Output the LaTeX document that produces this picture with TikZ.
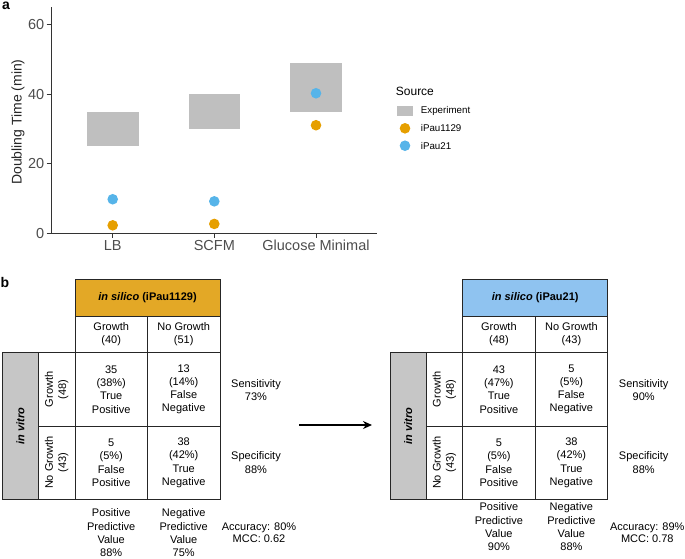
\documentclass[tikz,border=0pt]{standalone}
\usepackage{fontspec}
\setmainfont{Liberation Sans}
\usepackage{tikz}
\usetikzlibrary{arrows.meta, positioning}

\definecolor{expgray}{RGB}{191,191,191}
\definecolor{ipauorange}{RGB}{230,159,0}
\definecolor{ipaublue}{RGB}{86,180,233}
\definecolor{headorange}{RGB}{227,168,38}
\definecolor{headblue}{RGB}{143,195,240}
\definecolor{vitrogray}{RGB}{198,198,198}
\definecolor{axisgray}{RGB}{51,51,51}
\definecolor{ticktext}{RGB}{77,77,77}

\begin{document}
\begin{tikzpicture}[x=1pt, y=-1pt,
	cell/.style={draw=black!85, line width=0.9pt, inner sep=0pt, align=center, minimum width=72.5pt, minimum height=73.3pt, font=\fontsize{11}{13.3}\selectfont},
	dot/.style={circle, inner sep=0pt, minimum size=10.6pt},
	ticklab/.style={text=ticktext, font=\fontsize{14.5}{16}\selectfont, inner sep=1pt},
	txt/.style={align=center, inner sep=0pt, font=\fontsize{11}{13.3}\selectfont},
	leg/.style={anchor=west, inner sep=0pt, font=\fontsize{9.75}{11}\selectfont}]
		\useasboundingbox (0,0) rectangle (685,558);
		\node[font=\bfseries\fontsize{14}{16}\selectfont, inner sep=0pt] (pa) at (6,6) {a};
		\node[font=\bfseries\fontsize{14}{16}\selectfont, inner sep=0pt] (pb) at (5,282) {b};
		
		% panel a
		\begin{scope}[shift={(0,233.3)}, y=3.475pt]
			\fill[expgray] (87.3,25) rectangle (138.7,35);
			\fill[expgray] (189,30) rectangle (240.3,40);
			\fill[expgray] (290.3,35) rectangle (342.3,49);
			\node[dot, fill=ipaublue] (lbB) at (112.7,9.8) {};
			\node[dot, fill=ipauorange] (lbO) at (112.7,2.3) {};
			\node[dot, fill=ipaublue] (scB) at (214.3,9.2) {};
			\node[dot, fill=ipauorange] (scO) at (214.3,2.7) {};
			\node[dot, fill=ipaublue] (glB) at (316,40.3) {};
			\node[dot, fill=ipauorange] (glO) at (316,31.1) {};
			\draw[axisgray, line width=1pt] (51.7,65.1) -- (51.7,0) -- (376.7,0);
			\foreach \v in {0,20,40,60} {
				\draw[axisgray, line width=1pt] (46.5,\v) -- (51.7,\v);
				\node[ticklab, anchor=east] (yt\v) at (45.5,\v) {\v};
			}
			\foreach \x/\lab [count=\i] in {112.7/LB, 214.3/SCFM, 316/Glucose Minimal} {
				\draw[axisgray, line width=1pt] (\x,0) -- (\x,-1.45);
				\node[ticklab, anchor=north] (xt\i) at (\x,-1.7) {\lab};
			}
			\node[rotate=90, font=\fontsize{14}{16}\selectfont, text=black!85] (ytitle) at (18,32) {Doubling Time (min)};
		\end{scope}
		
		% legend
		\node[anchor=west, inner sep=0pt, font=\fontsize{12}{14}\selectfont] (legT) at (395.7,91.7) {Source};
		\fill[expgray] (397.3,106) rectangle (412.7,115.7);
		\node[leg] (legE) at (420.7,110.9) {Experiment};
		\node[dot, fill=ipauorange] (legOd) at (405,128.3) {};
		\node[leg] (legO) at (420.7,128.3) {iPau1129};
		\node[dot, fill=ipaublue] (legBd) at (405,145.7) {};
		\node[leg] (legB) at (420.7,145.7) {iPau21};
		
		% panel b, iPau1129
		\node[cell, fill=headorange, minimum width=145pt, minimum height=36.7pt] (lhead) at (147.5,297.7) {\textbf{\textit{in silico} (iPau1129)}};
		\node[cell, minimum height=36.7pt] (lcg) at (111.2,334.3) {Growth\\(40)};
		\node[cell, minimum height=36.7pt] (lcn) at (183.7,334.3) {No Growth\\(51)};
		\node[cell] (ltp) at (111.2,389.3) {35\\(38\%)\\True\\Positive};
		\node[cell] (lfn) at (183.7,389.3) {13\\(14\%)\\False\\Negative};
		\node[cell] (lfp) at (111.2,462.7) {5\\(5\%)\\False\\Positive};
		\node[cell] (ltn) at (183.7,462.7) {38\\(42\%)\\True\\Negative};
		\node[cell, rotate=90, minimum width=73.3pt, minimum height=36.7pt] (lrg) at (56.6,389.3) {Growth\\(48)};
		\node[cell, rotate=90, minimum width=73.3pt, minimum height=36.7pt] (lrn) at (56.6,462.7) {No Growth\\(43)};
		\node[cell, fill=vitrogray, rotate=90, minimum width=146.7pt, minimum height=35.7pt] (lvitro) at (20.5,426) {\textbf{\textit{in vitro}}};
		\node[txt] (lsens) at (256,390) {Sensitivity\\73\%};
		\node[txt] (lspec) at (256,462.5) {Specificity\\88\%};
		\node[txt] (lppv) at (111.2,533) {Positive\\Predictive\\Value\\88\%};
		\node[txt] (lnpv) at (183.7,533) {Negative\\Predictive\\Value\\75\%};
		\node[txt, font=\fontsize{11}{11.7}\selectfont] (lacc) at (259,532.5) {Accuracy: 80\%\\MCC: 0.62};
		
		\coordinate (arrS) at (299.3,425);
		\coordinate (arrE) at (372,425);
		\draw[-{Stealth[length=9pt, width=8pt]}, line width=1.8pt] (arrS) -- (arrE);
		
		% panel b, iPau21
		\begin{scope}[xshift=387.7pt]
			\node[cell, fill=headblue, minimum width=145pt, minimum height=36.7pt] (rhead) at (147.5,297.7) {\textbf{\textit{in silico} (iPau21)}};
			\node[cell, minimum height=36.7pt] (rcg) at (111.2,334.3) {Growth\\(48)};
			\node[cell, minimum height=36.7pt] (rcn) at (183.7,334.3) {No Growth\\(43)};
			\node[cell] (rtp) at (111.2,389.3) {43\\(47\%)\\True\\Positive};
			\node[cell] (rfn) at (183.7,389.3) {5\\(5\%)\\False\\Negative};
			\node[cell] (rfp) at (111.2,462.7) {5\\(5\%)\\False\\Positive};
			\node[cell] (rtn) at (183.7,462.7) {38\\(42\%)\\True\\Negative};
			\node[cell, rotate=90, minimum width=73.3pt, minimum height=36.7pt] (rrg) at (56.6,389.3) {Growth\\(48)};
			\node[cell, rotate=90, minimum width=73.3pt, minimum height=36.7pt] (rrn) at (56.6,462.7) {No Growth\\(43)};
			\node[cell, fill=vitrogray, rotate=90, minimum width=146.7pt, minimum height=35.7pt] (rvitro) at (20.5,426) {\textbf{\textit{in vitro}}};
			\node[txt] (rsens) at (256,390) {Sensitivity\\90\%};
			\node[txt] (rspec) at (256,462.5) {Specificity\\88\%};
			\node[txt] (rppv) at (111.2,527) {Positive\\Predictive\\Value\\90\%};
			\node[txt] (rnpv) at (183.7,527) {Negative\\Predictive\\Value\\88\%};
			\node[txt, font=\fontsize{11}{11.7}\selectfont] (racc) at (259.6,532.5) {Accuracy: 89\%\\MCC: 0.78};
		\end{scope}
	\end{tikzpicture}
\end{document}
